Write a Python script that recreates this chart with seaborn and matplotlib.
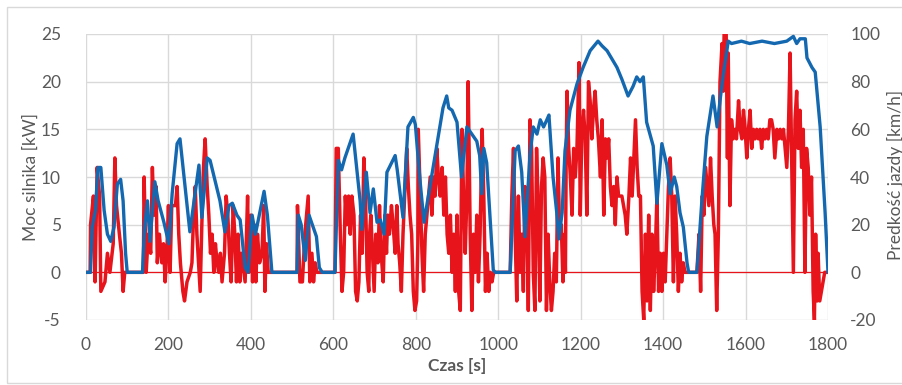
import matplotlib
matplotlib.use('Agg')
import matplotlib.pyplot as plt
from matplotlib.patches import Rectangle
import pandas as pd
import seaborn as sns

# engine power [kW] (time [s], value)
power_t = [0, 10, 11, 18, 22, 27, 33, 36, 46, 52, 58, 66, 70, 74, 81, 86, 90, 94,
           139, 141, 146, 151, 157, 161, 165, 170, 173, 178, 184, 188, 192, 196, 200, 204,
           208, 217, 221, 225, 229, 235, 239, 245, 253, 257, 261, 265, 269, 273, 277, 281,
           285, 289, 294, 298, 302, 306, 310, 314, 318, 322, 326, 330, 336, 340, 344, 348,
           352, 357, 361, 365, 369, 373, 377, 383, 386, 392, 395, 400, 404, 408, 412, 416,
           421, 427, 431, 434, 438, 442,
           512, 513, 519, 525, 531, 539, 543, 548, 552, 556, 560,
           604, 607, 612, 617, 621, 625, 629, 633, 637, 641, 645, 650, 654, 658, 662, 666,
           670, 674, 678, 682, 686, 688, 691, 695, 699, 703, 708, 712, 716, 721, 725, 729,
           732, 736, 741, 745, 750, 754, 757, 761, 765, 769, 774, 778, 782, 786, 790, 794,
           798, 802, 805, 806, 811, 815, 819, 823, 827, 831, 835, 839, 843, 847, 851, 855,
           859, 864, 868, 872, 876, 880, 884, 888, 892, 896, 900, 904, 908, 912, 916, 920,
           924, 927, 930, 932, 936, 940, 944, 948, 952, 956, 961, 965, 969, 973, 977, 981,
           985, 989,
           1029, 1033, 1037, 1041, 1045, 1049, 1053, 1057, 1061, 1065, 1069, 1073, 1077,
           1081, 1085, 1089, 1093, 1097, 1101, 1105, 1109, 1113, 1117, 1121, 1125, 1129,
           1133, 1137, 1141, 1145, 1149, 1153, 1157, 1161, 1163, 1165, 1167, 1171, 1175,
           1179, 1183, 1187, 1191, 1196, 1199, 1203, 1207, 1211, 1215, 1219, 1223, 1227,
           1231, 1235, 1239, 1243, 1248, 1252, 1256, 1260, 1264, 1268, 1272, 1276, 1280,
           1284, 1288, 1292, 1300, 1304, 1308, 1312, 1317, 1321, 1325, 1329, 1333, 1337,
           1341, 1345, 1349, 1353, 1357, 1361, 1365, 1369, 1373, 1377, 1381, 1385, 1389,
           1393, 1397, 1401, 1405, 1409, 1413, 1417, 1421, 1425, 1429, 1433, 1437, 1441,
           1445, 1449, 1453,
           1482, 1487, 1491, 1495, 1499, 1503, 1507, 1511, 1515, 1519, 1523, 1526, 1530,
           1534, 1538, 1543, 1546, 1548, 1553, 1556, 1558, 1562, 1566, 1570, 1574, 1578,
           1583, 1587, 1591, 1595, 1599, 1603, 1607, 1611, 1615, 1619, 1623, 1627, 1631,
           1635, 1639, 1643, 1647, 1651, 1655, 1659, 1663, 1667, 1671, 1676, 1680, 1684,
           1688, 1692, 1696, 1700, 1704, 1708, 1716, 1720, 1724, 1728, 1732, 1736, 1740,
           1744, 1748, 1752, 1756, 1760, 1764, 1767, 1770, 1774, 1776, 1780, 1784, 1788,
           1792, 1800]
power_kw = [0, 0, 5, 8, -1, 11, 8, -2, -1, 2, 0, 3, 12, 7, 4, 2, -2, 0,
            0, 10, 0, 4, 2, 11, 6, 9, 1, 4, 1, 3, -1, 2, 7, 0,
            7, 7, 9, 4, 1, -2, -3, -1, 0, 1, 6, 9, 4, 1, -2, 5,
            11, 14, 9, 6, 2, 4, 0, 3, 1, 0, 2, -1, 2, 8, 6, 2,
            -1, 7, 4, -1, 4, -1, 2, 0, -1, 8, 0, 6, -1, 5, -1, 4,
            1, 2, 7, -2, 3, 0,
            0, 7, -1, -1, 4, 8, -1, 2, -1, 1, 0,
            0, 13, 13, 4, -2, 0, 8, 5, 8, 4, 8, 6, -2, -3, -1, 6,
            2, 12, 8, 0, -2, 4, 6, 2, -2, 4, 1, 7, 2, -1, 6, 2,
            6, 4, 7, 5, 2, 7, 3, 1, -2, 4, 9, 13, 9, 6, 4, -2,
            -4, -3, 3, 15, 8, 2, -2, 4, 6, 8, 10, 6, 10, 8, 13, 10,
            8, 11, 6, 10, 4, 2, 6, 0, 4, -2, 6, -2, -4, 15, 8, 2,
            8, 20, 11, 4, -4, 4, 0, 6, -1, 4, 15, 8, -2, 2, -2, 0,
            -1, 0,
            0, 8, 13, 4, -3, 8, 0, 4, -2, 9, 8, -4, 16,
            13, 0, -4, 13, 7, -3, 9, 12, 10, -4, 4, -1, -4,
            -2, 2, -1, 12, 4, 5, -1, 4, 0, 13, 19, 13, 10,
            6, 13, 10, 13, 22, 6, 15, 17, 14, 6, 20, 18, 14,
            17, 19, 16, 14, 10, 16, 6, 14, 12, 14, 9, 7, 9,
            5, 10, 8, 8, 7, 6, 4, 8, 12, 8, 12, 16, 11,
            8, 8, -2, -5, 4, -3, 6, -4, 4, -2, 2, 8, -2,
            2, -2, 2, -1, 4, 9, 12, 8, -1, 8, 4, -2, 2,
            -1, 1, 0,
            0, 4, -2, 8, 6, 11, 9, 7, 12, 8, 5, 4, -4,
            4, 20, 24, 19, 25, 25, 12, 23, 7, 16, 14, 15, 14,
            18, 15, 14, 17, 15, 12, 15, 17, 13, 15, 14, 15, 14,
            15, 13, 15, 14, 15, 14, 16, 16, 15, 12, 15, 14, 15,
            14, 15, 13, 11, 15, 23, 0, 16, 19, 13, 17, 11, 15,
            0, 13, 11, 6, 10, -2, -5, 4, -3, 2, -3, -2, -1,
            0, 0]

# vehicle speed [km/h] (time [s], value)
speed_t = [0, 11, 15, 23, 29, 36, 44, 52, 60, 68, 76, 84, 90, 96, 100,
           137, 142, 149, 155, 167, 175, 189, 201, 209, 221, 228, 252, 274, 281, 294,
           301, 325, 337, 347, 355, 366, 374, 386, 393, 403, 411, 418, 432, 440, 451,
           512, 515, 522, 532, 541, 551, 559, 566, 573,
           604, 612, 620, 628, 648, 665, 669, 680, 689, 697, 706, 714, 723, 730, 750,
           755, 769, 781, 794, 799, 810, 820, 842, 866, 875, 880, 888, 900, 911, 924,
           936, 948, 955, 960, 965, 972, 988, 993,
           1029, 1041, 1049, 1057, 1065, 1077, 1085, 1094, 1102, 1110, 1118, 1123, 1133,
           1142, 1147, 1155, 1162, 1174, 1191, 1206, 1223, 1242, 1252, 1264, 1288, 1300,
           1315, 1327, 1336, 1344, 1352, 1360, 1376, 1385, 1397, 1409, 1417, 1427, 1433,
           1441, 1449, 1458, 1462,
           1482, 1494, 1506, 1521, 1531, 1538, 1546, 1558, 1566, 1590, 1610, 1640, 1670,
           1700, 1716, 1724, 1732, 1745, 1749, 1761, 1769, 1781, 1793, 1800]
speed_kmh = [0, 0, 19, 26, 44, 44, 26, 16, 13, 19, 37, 39, 30, 8, 0,
             0, 19, 30, 13, 38, 30, 21, 12, 33, 54, 56, 17, 45, 23, 48,
             47, 30, 17, 28, 29, 24, 22, 2, 0, 24, 16, 22, 34, 24, 0,
             0, 24, 20, 5, 24, 19, 15, 2, 0,
             0, 47, 43, 48, 58, 30, 18, 42, 25, 35, 21, 22, 16, 42, 49,
             43, 23, 61, 65, 62, 39, 21, 44, 69, 74, 69, 68, 63, 40, 61,
             58, 55, 49, 33, 52, 46, 1, 0,
             0, 51, 53, 42, 15, 49, 61, 58, 64, 61, 64, 66, 40,
             25, 14, 25, 51, 68, 79, 86, 93, 97, 95, 93, 86, 81,
             74, 78, 82, 80, 82, 63, 53, 29, 54, 45, 33, 40, 36,
             25, 19, 4, 0,
             0, 30, 57, 74, 61, 72, 83, 97, 96, 97, 96, 97, 96,
             97, 99, 96, 98, 98, 90, 86, 84, 61, 25, 0]

power = pd.DataFrame({'Czas': power_t, 'Moc': power_kw})
speed = pd.DataFrame({'Czas': speed_t, 'Predkosc': speed_kmh})

sns.set_style('white')
plt.rcParams['font.family'] = ['Lato', 'DejaVu Sans']
plt.rcParams['axes.unicode_minus'] = False

text_color = '#595959'
grid_color = '#d9d9d9'
red = '#e8141c'
blue = '#1468b0'

fig = plt.figure(figsize=(9.03, 3.85), dpi=100)
ax = fig.add_axes([86 / 903, 1 - 320 / 385, 742 / 903, 286 / 385])
ax2 = ax.twinx()

ax.axhline(0, color=red, lw=0.9, zorder=1)
sns.lineplot(data=power, x='Czas', y='Moc', ax=ax, color=red, lw=2.5, zorder=2)
sns.lineplot(data=speed, x='Czas', y='Predkosc', ax=ax2, color=blue, lw=2.4)

ax.set_xlim(0, 1800)
ax.set_ylim(-5, 25)
ax2.set_ylim(-20, 100)
ax.set_xticks(range(0, 1801, 200))
ax.set_yticks(range(-5, 26, 5))
ax2.set_yticks(range(-20, 101, 20))

ax.grid(True, color=grid_color, lw=1)
for a in (ax, ax2):
    for s in a.spines.values():
        s.set_visible(False)
    a.tick_params(length=0, labelsize=12.5, colors=text_color)
ax.tick_params(axis='y', pad=18)
ax.tick_params(axis='x', pad=12)
ax2.tick_params(axis='y', pad=16)

ax.set_ylabel('')
ax2.set_ylabel('')
ax.set_xlabel('Czas [s]', fontsize=12.5, fontweight='bold', color=text_color, labelpad=4)
fig.text(31 / 903, 1 - 177 / 385, 'Moc silnika [kW]', rotation=90, fontsize=12.5,
         color=text_color, ha='center', va='center')
fig.text(895 / 903, 1 - 175 / 385, 'Predkość jazdy [km/h]', rotation=90, fontsize=12.5,
         color=text_color, ha='center', va='center')

fig.patches.append(Rectangle((7 / 903, 2 / 385), 1.0, 1 - 9 / 385, transform=fig.transFigure,
                             fill=False, ec=grid_color, lw=1))

fig.savefig('out.png', dpi=100)
